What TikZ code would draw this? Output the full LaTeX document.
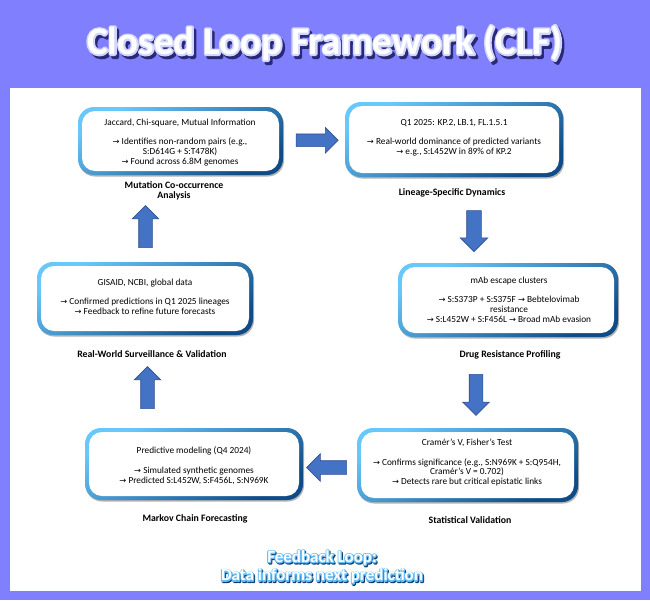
\documentclass[tikz,border=0pt]{standalone}
\usepackage{fontspec}
\setmainfont{Carlito}
\newfontfamily\arrfont{DejaVu Sans}
\usetikzlibrary{shapes.arrows,shadows,calc}
\definecolor{bgpurple}{RGB}{128,128,255}
\definecolor{bdlight}{RGB}{105,200,250}
\definecolor{bddark}{RGB}{15,75,135}
\definecolor{arrfill}{RGB}{68,114,196}
\definecolor{arrdraw}{RGB}{47,82,143}
\definecolor{titleshadow}{RGB}{40,40,120}
\definecolor{fbshadow}{RGB}{20,60,110}
\newcommand{\ra}{{\arrfont\fontsize{8.3}{9.8}\selectfont →}}
\makeatletter
% text filled and stroked (outline of given width and rgb colour)
\newcommand{\strk}[3]{\pgfsys@invoke{2 Tr #1 w 1 j #2 RG}#3\pgfsys@invoke{0 Tr}}
% text stroked only
\newcommand{\strkonly}[3]{\pgfsys@invoke{1 Tr #1 w 1 j #2 RG}#3\pgfsys@invoke{0 Tr}}
\makeatother
\newcommand{\titletext}{Closed Loop Framework (CLF)}

\begin{document}
\begin{tikzpicture}[x=1pt,y=-1pt,
  outerbox/.style={rectangle, rounded corners=16pt, inner sep=0pt,
    top color=bdlight, bottom color=bddark, shading angle=30,
    drop shadow={shadow xshift=1pt, shadow yshift=-1.5pt, opacity=0.3, fill=black}},
  innerbox/.style={rectangle, rounded corners=13pt, fill=white, inner sep=0pt},
  body/.style={align=center, font=\fontsize{9.3}{9.8}\selectfont, inner sep=0pt},
  lab/.style={align=center, font=\bfseries\fontsize{9.8}{9.8}\selectfont, inner sep=0pt},
  blockarrow/.style={single arrow, fill=arrfill, draw=arrdraw, line width=0.6pt,
    inner xsep=0pt, inner ysep=6.5pt, minimum width=0pt, single arrow head extend=6.5pt},
  ttl/.style={font=\bfseries\fontsize{39}{42}\selectfont, inner sep=0pt},
  fb/.style={font=\bfseries\fontsize{17}{18.5}\selectfont, inner sep=0pt, align=center},
]
\useasboundingbox (0,0) rectangle (650,600);
\fill[bgpurple] (0,0) rectangle (650,600);
\fill[white] (10,88) rectangle (641,591);

% Title
\coordinate (tpos) at (325,43);
\node[ttl, text=titleshadow] (tsh) at ($(tpos)+(2.5,3)$) {\strk{3.2}{0.16 0.16 0.47}{\titletext}};
\node[ttl, text=white] (tglow) at (tpos) {\strkonly{3.4}{0.82 0.84 1}{\titletext}};
\node[ttl, text=white] (title) at (tpos) {\titletext};

% Boxes
\newcommand{\clfbox}[5]{%
  \node[outerbox, minimum width=#4pt, minimum height=#5pt] (#1) at (#2,#3) {};
  \pgfmathsetmacro\iw{#4-8}\pgfmathsetmacro\ih{#5-8}
  \node[innerbox, minimum width=\iw pt, minimum height=\ih pt] (#1i) at (#2,#3) {};
}
\clfbox{b1}{180.5}{141}{205}{68}
\clfbox{b2}{454}{139.5}{218}{75}
\clfbox{b3}{145}{298.5}{216}{73}
\clfbox{b4}{508}{300}{220}{74}
\clfbox{b5}{194}{464}{218}{72}
\clfbox{b6}{467.5}{465}{221}{74}

% Box texts
\node[body] (t1) at (180,142.5) {Jaccard, Chi-square, Mutual Information\\[9.8pt]
  \ra{} Identifies non-random pairs (e.g.,\\ S:D614G + S:T478K)\\ \ra{} Found across 6.8M genomes};
\node[body] (t2) at (454,137.5) {Q1 2025: KP.2, LB.1, FL.1.5.1\\[9.8pt]
  \ra{} Real-world dominance of predicted variants\\ \ra{} e.g., S:L452W in 89\% of KP.2};
\node[body] (t3) at (145,296.5) {GISAID, NCBI, global data\\[9.8pt]
  \ra{} Confirmed predictions in Q1 2025 lineages\\ \ra{} Feedback to refine future forecasts};
\node[body] (t4) at (509,299.5) {mAb escape clusters\\[9.8pt]
  \ra{} S:S373P + S:S375F \ra{} Bebtelovimab\\ resistance\\ \ra{} S:L452W + S:F456L \ra{} Broad mAb evasion};
\node[body] (t5) at (194,465.5) {Predictive modeling (Q4 2024)\\[9.8pt]
  \ra{} Simulated synthetic genomes\\ \ra{} Predicted S:L452W, S:F456L, S:N969K};
\node[body] (t6) at (467,462.5) {Cramér’s V, Fisher’s Test\\[9.8pt]
  \ra{} Confirms significance (e.g., S:N969K + S:Q954H,\\ Cramér’s V = 0.702)\\ \ra{} Detects rare but critical epistatic links};

% Labels
\node[lab] (l1) at (174,191) {Mutation Co-occurrence\\Analysis};
\node[lab] (l2) at (452,193) {Lineage-Specific Dynamics};
\node[lab] (l3) at (152,354) {Real-World Surveillance \& Validation};
\node[lab] (l4) at (510,355) {Drug Resistance Profiling};
\node[lab] (l5) at (195,519) {Markov Chain Forecasting};
\node[lab] (l6) at (470,520) {Statistical Validation};

% Block arrows
\node[blockarrow, minimum height=42pt, inner ysep=6pt] (a1) at ($(b1.east)!0.5!(b2.west)$) {};
\node[blockarrow, minimum height=41pt, inner ysep=7pt, rotate=-90] (a2) at (474,227.5) {};
\node[blockarrow, minimum height=41pt, rotate=-90] (a3) at (476,391.5) {};
\node[blockarrow, minimum height=40pt, single arrow head extend=7pt, rotate=180] (a4) at ($(b5.east)!0.5!(b6.west)+(0,3)$) {};
\node[blockarrow, minimum height=42pt, rotate=90] (a5) at (147.5,391) {};
\node[blockarrow, minimum height=42pt, rotate=90] (a6) at (145.5,230) {};

% Feedback text
\coordinate (fpos) at (322,567);
\node[fb, text=fbshadow] (fsh) at ($(fpos)+(1,1.2)$) {\strk{2.0}{0.08 0.24 0.43}{Feedback Loop:}\\\strk{2.0}{0.08 0.24 0.43}{Data informs next prediction}};
\node[fb, text=white] (fglow) at (fpos) {\strkonly{2.0}{0.40 0.74 0.96}{Feedback Loop:}\\\strkonly{2.0}{0.40 0.74 0.96}{Data informs next prediction}};
\node[fb, text=white] (fbt) at (fpos) {Feedback Loop:\\Data informs next prediction};
\end{tikzpicture}
\end{document}
